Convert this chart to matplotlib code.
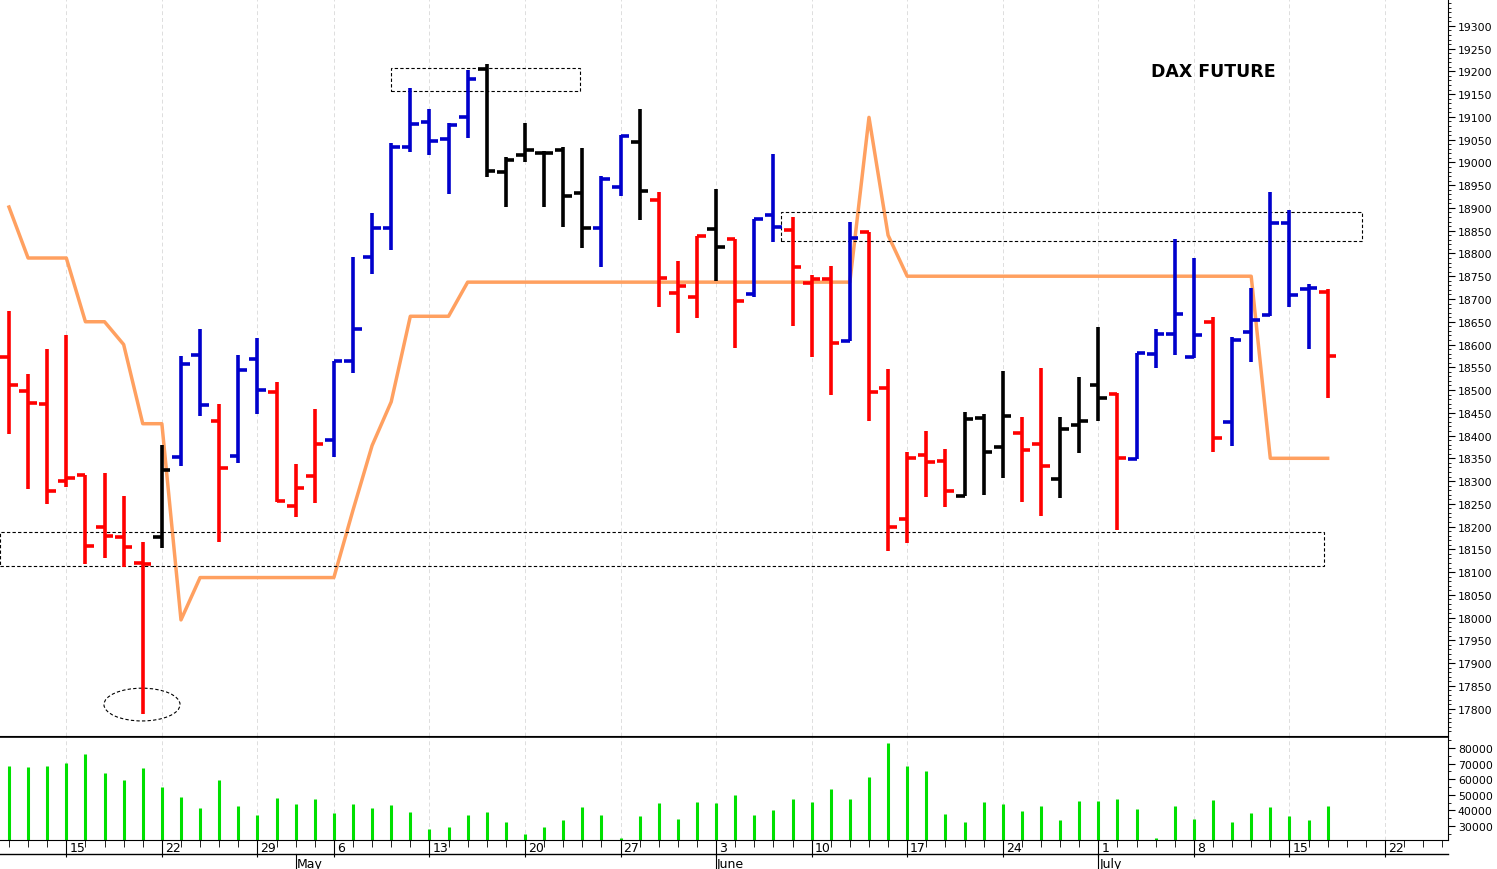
import matplotlib
matplotlib.use("Agg")
import matplotlib.pyplot as plt
from matplotlib.patches import Rectangle, Ellipse
import matplotlib.transforms as mtrans
import numpy as np

# daily bars (trading-day index 0 = 10 April 2024)
opens = [18572, 18498, 18469, 18300, 18314, 18198, 18177, 18120, 18177, 18352,
         18578, 18433, 18355, 18568, 18495, 18245, 18312, 18391, 18563, 18793,
         18855, 19033, 19088, 19052, 19100, 19205, 18980, 19016, 19021, 19028,
         18933, 18857, 18945, 19045, 18917, 18714, 18705, 18853, 18831, 18710,
         18885, 18852, 18736, 18743, 18607, 18847, 18505, 18216, 18357, 18343,
         18267, 18438, 18374, 18405, 18381, 18304, 18423, 18510, 18491, 18348,
         18580, 18624, 18572, 18650, 18429, 18628, 18664, 18867, 18723, 18716]
highs = [18674, 18536, 18590, 18620, 18314, 18317, 18267, 18166, 18379, 18574,
         18633, 18469, 18576, 18614, 18517, 18338, 18458, 18564, 18793, 18888,
         19042, 19164, 19118, 19086, 19204, 19217, 19012, 19086, 19026, 19033,
         19031, 18971, 19061, 19117, 18934, 18783, 18838, 18942, 18831, 18876,
         19018, 18881, 18753, 18772, 18869, 18847, 18547, 18364, 18411, 18371,
         18452, 18447, 18542, 18441, 18548, 18441, 18529, 18638, 18493, 18581,
         18633, 18831, 18790, 18660, 18617, 18724, 18934, 18896, 18733, 18721]
lows = [18403, 18283, 18250, 18286, 18117, 18131, 18112, 17788, 18153, 18333,
        18442, 18167, 18339, 18447, 18253, 18220, 18252, 18352, 18538, 18755,
        18807, 19023, 19017, 18931, 19053, 18969, 18902, 19000, 18902, 18859,
        18812, 18771, 18926, 18874, 18683, 18626, 18659, 18740, 18593, 18705,
        18826, 18640, 18572, 18488, 18607, 18431, 18147, 18164, 18264, 18242,
        18267, 18269, 18307, 18255, 18223, 18263, 18362, 18431, 18193, 18348,
        18548, 18577, 18571, 18364, 18376, 18562, 18662, 18683, 18591, 18483]
closes = [18512, 18472, 18279, 18307, 18158, 18179, 18155, 18117, 18324, 18557,
          18467, 18329, 18545, 18500, 18257, 18285, 18381, 18564, 18633, 18855,
          19033, 19085, 19047, 19083, 19183, 18981, 19005, 19028, 19021, 18926,
          18857, 18964, 19057, 18938, 18745, 18728, 18838, 18815, 18695, 18876,
          18859, 18771, 18743, 18604, 18833, 18495, 18199, 18350, 18342, 18279,
          18436, 18364, 18443, 18369, 18334, 18414, 18433, 18483, 18350, 18581,
          18624, 18666, 18621, 18395, 18609, 18653, 18867, 18709, 18724, 18575]
bar_colors = list("rrrrrrrrkbbrbbrrrbbbbbbbbkkkkkkbbkrrrkrbbrrrbrrrrrkkkrrkkkrbbbbrbbbbbr")

stop_line = [18902, 18790, 18790, 18790, 18650, 18650, 18600, 18426, 18426, 17995,
             18088, 18088, 18088, 18088, 18088, 18088, 18088, 18088, 18236, 18378,
             18474, 18662, 18662, 18662, 18737] + [18737] * 20 + \
            [19099, 18840, 18750] + [18750] * 18 + [18350] * 4

volume = [68300, 67700, 68300, 70300, 76100, 63800, 59200, 67000, 54700, 48800,
          41700, 59200, 43000, 37200, 48200, 44300, 47500, 38500, 44300, 41700,
          43700, 39100, 28100, 29400, 37200, 39100, 32600, 24800, 29400, 33900,
          42400, 37200, 22000, 36500, 45000, 34600, 45600, 45000, 50100, 37200,
          40400, 47500, 45600, 53400, 47500, 61200, 83200, 68300, 65100, 37800,
          32600, 45600, 44300, 39800, 43000, 33900, 46300, 46300, 47500, 41000,
          22000, 43000, 34600, 46900, 32600, 38500, 42400, 36500, 33900, 43000]

week_idx = [3, 8, 13, 17, 22, 27, 32, 37, 42, 47, 52, 57, 62, 67, 72]
week_labels = ["15", "22", "29", "6", "13", "20", "27", "3", "10", "17", "24", "1", "8", "15", "22"]
month_idx = [15, 37, 57]
month_labels = ["May", "June", "July"]

cmap = {"r": "#ff0000", "b": "#0000cc", "k": "#000000"}
x = np.arange(len(opens))
xmin, xmax = -0.47, 75.3

fig = plt.figure(figsize=(14.97, 8.7), dpi=100)
ax = fig.add_axes([0, 0.1529, 0.9673, 0.8471])
av = fig.add_axes([0, 0.0333, 0.9673, 0.1184], sharex=ax)

for i in x:
    c = cmap[bar_colors[i]]
    ax.vlines(i, lows[i], highs[i], color=c, lw=2.6)
    ax.hlines(opens[i], i - 0.45, i, color=c, lw=2.6)
    ax.hlines(closes[i], i, i + 0.45, color=c, lw=2.6)

ax.plot(x, stop_line, color="#ffa060", lw=2.5, zorder=1)

box_kw = dict(fill=False, ls=(0, (3, 2)), lw=0.8, ec="black")
ax.add_patch(Rectangle((20.0, 19157), 9.9, 51, **box_kw))
ax.add_patch(Rectangle((40.4, 18828), 30.4, 63, **box_kw))
ax.add_patch(Rectangle((-0.47, 18114), 69.3, 75, **box_kw))
ax.add_patch(Ellipse((6.96, 17809), 3.98, 72, **box_kw))

ax.text(63.0, 19200, "DAX FUTURE", fontsize=12.5, fontweight="bold", ha="center", va="center")

ax.set_xlim(xmin, xmax)
ax.set_ylim(17740, 19359)
ax.yaxis.tick_right()
ax.set_yticks(np.arange(17800, 19301, 50))
ax.set_yticks(np.arange(17750, 19351, 10), minor=True)
ax.tick_params(axis="y", which="major", length=5, labelsize=7.8, pad=2)
ax.tick_params(axis="y", which="minor", length=2.5)
ax.tick_params(axis="x", length=0, labelbottom=False)
for w in week_idx:
    ax.axvline(w, color="#dddddd", lw=0.7, ls=(0, (4, 3)), zorder=0)
    av.axvline(w, color="#dddddd", lw=0.7, ls=(0, (4, 3)), zorder=0)
for s in ["top", "left"]:
    ax.spines[s].set_visible(False)

av.vlines(x, 0, volume, color="#00e000", lw=2.2)
av.set_ylim(20900, 87100)
av.yaxis.tick_right()
av.set_yticks(np.arange(30000, 80001, 10000))
av.set_yticks(np.arange(25000, 85001, 5000), minor=True)
av.tick_params(axis="y", which="major", length=5, labelsize=7.8, pad=2)
av.tick_params(axis="y", which="minor", length=2.5)
av.set_xticks(week_idx)
av.set_xticklabels([])
av.set_xticks(np.arange(0, 76), minor=True)
av.tick_params(axis="x", which="major", direction="out", length=12)
av.tick_params(axis="x", which="minor", direction="out", length=5)
av.spines["left"].set_visible(False)
av.spines["top"].set_linewidth(1.2)

trans = mtrans.blended_transform_factory(av.transData, fig.transFigure)
for w, lab in zip(week_idx, week_labels):
    fig.text(w + 0.15, 0.0245, lab, transform=trans, fontsize=9, ha="left", va="center")
for m, lab in zip(month_idx, month_labels):
    fig.add_artist(plt.Line2D([m, m], [0.0, 0.0172], transform=trans, color="black", lw=0.8))
    fig.text(m + 0.05, 0.0065, lab, transform=trans, fontsize=9, ha="left", va="center")
fig.add_artist(plt.Line2D([0, 0.9673], [0.0172, 0.0172], color="black", lw=1.0))

fig.savefig("out.png", dpi=100)
